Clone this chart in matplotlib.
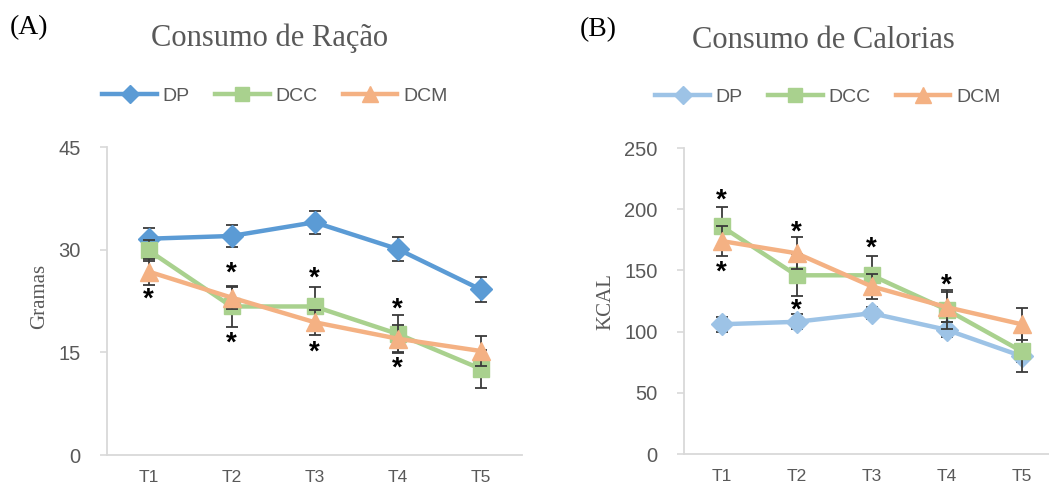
import matplotlib
matplotlib.use("Agg")
import matplotlib.pyplot as plt
from matplotlib.lines import Line2D
from matplotlib.transforms import offset_copy

# ---- data ----
categories = ["T1", "T2", "T3", "T4", "T5"]
series_names = ["DP", "DCC", "DCM"]

racao_dp = [31.6, 32.0, 34.0, 30.1, 24.2]
racao_dp_err = [1.6, 1.6, 1.7, 1.7, 1.8]
racao_dcc = [29.9, 21.7, 21.7, 17.7, 12.6]
racao_dcc_err = [1.5, 3.0, 2.8, 2.8, 2.8]
racao_dcm = [26.8, 23.0, 19.4, 17.0, 15.2]
racao_dcm_err = [1.9, 1.6, 1.8, 2.0, 2.2]
racao_star_x = [0, 1, 1, 2, 2, 3, 3]
racao_star_y = [23.4, 27.2, 17.0, 26.5, 15.7, 21.9, 13.4]

cal_dp = [106, 108, 115, 101.5, 80]
cal_dp_err = [6, 6, 5, 6, 5]
cal_dcc = [186, 146, 146, 118, 84]
cal_dcc_err = [16, 17, 16, 16, 17]
cal_dcm = [174, 164, 137, 120, 106]
cal_dcm_err = [12, 13, 10, 12, 13]
cal_star_x = [0, 0, 1, 1, 2, 3]
cal_star_y = [211, 152, 185, 121, 171.5, 141.5]

# ---- style ----
TXT = "#595959"
SPINE = "#D9D9D9"
BLUE_A = "#5B9BD5"
BLUE_B = "#9DC3E6"
GREEN = "#A9D18E"
ORANGE = "#F4B183"
SANS = ["Liberation Sans", "DejaVu Sans"]
SERIF = ["Liberation Serif", "DejaVu Serif"]

fig = plt.figure(figsize=(10.49, 4.90), dpi=100)
W, H = 1049, 490


def ax_rect(left, right, top, bottom):
    return [left / W, (H - bottom) / H, (right - left) / W, (bottom - top) / H]


def draw_panel(ax, ys, errs, colors, ymax, ystep, star_x, star_y):
    x = list(range(len(categories)))
    markers = ["D", "s", "^"]
    msizes = [11, 12, 13]
    for i, (y, e, c) in enumerate(zip(ys, errs, colors)):
        ax.errorbar(x, y, yerr=e, fmt="none", ecolor="#3a3a3a",
                    elinewidth=1.3, capsize=4, capthick=1.3, zorder=2 + 2 * i)
        ax.plot(x, y, color=c, lw=3.2, marker=markers[i], ms=msizes[i],
                mec=c, mfc=c, zorder=3 + 2 * i, solid_capstyle="round")
    star_tr = offset_copy(ax.transData, fig=fig, x=0, y=-5, units="dots")
    for sx, sy in zip(star_x, star_y):
        ax.text(sx, sy, "*", ha="center", va="center", fontsize=20,
                fontweight="bold", color="black", family=SANS, zorder=10,
                transform=star_tr)
    ax.set_xlim(-0.5, len(categories) - 0.5)
    ax.set_ylim(0, ymax)
    ax.set_yticks(range(0, ymax + 1, ystep))
    ax.set_xticks(x)
    ax.set_xticklabels(categories)
    for s in ["top", "right"]:
        ax.spines[s].set_visible(False)
    for s in ["left", "bottom"]:
        ax.spines[s].set_color(SPINE)
        ax.spines[s].set_linewidth(1.3)
    ax.tick_params(axis="y", colors=SPINE, labelcolor=TXT, length=5,
                   width=1.2, pad=14, labelsize=14.5)
    ax.tick_params(axis="x", length=0, pad=11, labelcolor=TXT, labelsize=12.5)
    for lab in ax.get_yticklabels() + ax.get_xticklabels():
        lab.set_family(SANS)
    ax.patch.set_visible(False)
    return ax


axA = fig.add_axes(ax_rect(107, 522, 147, 455))
draw_panel(axA, [racao_dp, racao_dcc, racao_dcm],
           [racao_dp_err, racao_dcc_err, racao_dcm_err],
           [BLUE_A, GREEN, ORANGE], 45, 15, racao_star_x, racao_star_y)

axB = fig.add_axes(ax_rect(684, 1059, 148, 454))
draw_panel(axB, [cal_dp, cal_dcc, cal_dcm],
           [cal_dp_err, cal_dcc_err, cal_dcm_err],
           [BLUE_B, GREEN, ORANGE], 250, 50, cal_star_x, cal_star_y)

# y labels
fig.text(40 / W, 1 - 296 / H, "Gramas", rotation=90, ha="center", va="center",
         fontsize=15, color=TXT, family=SERIF)
fig.text(606 / W, 1 - 302 / H, "KCAL", rotation=90, ha="center", va="center",
         fontsize=15, color=TXT, family=SERIF)

# titles
fig.text(270 / W, 1 - 38 / H, "Consumo de Ração", ha="center", va="center",
         fontsize=22, color=TXT, family=SERIF)
fig.text(823 / W, 1 - 40 / H, "Consumo de Calorias", ha="center", va="center",
         fontsize=22, color=TXT, family=SERIF)

# panel letters
fig.text(10 / W, 1 - 28 / H, "(A)", ha="left", va="center", fontsize=20,
         color="black", family=SERIF)
fig.text(580 / W, 1 - 30 / H, "(B)", ha="left", va="center", fontsize=20,
         color="black", family=SERIF)


def legend_for(colors, cx, cy):
    markers = ["D", "s", "^"]
    msizes = [9, 10, 11]
    handles = [Line2D([0], [0], color=c, lw=3.2, marker=m, ms=s, mec=c, mfc=c)
               for c, m, s in zip(colors, markers, msizes)]
    leg = fig.legend(handles, series_names, loc="center",
                     bbox_to_anchor=(cx / W, 1 - cy / H), ncol=3, frameon=False,
                     handlelength=2.8, handletextpad=0.3, columnspacing=1.3,
                     prop={"family": SANS, "size": 14})
    for t in leg.get_texts():
        t.set_color(TXT)
    return leg


legend_for([BLUE_A, GREEN, ORANGE], 275, 96)
legend_for([BLUE_B, GREEN, ORANGE], 828, 97)

fig.savefig("out.png", dpi=100)
